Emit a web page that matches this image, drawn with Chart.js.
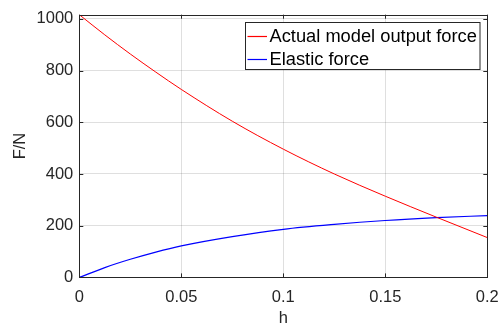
<!DOCTYPE html>
<html>
<head>
<meta charset="utf-8">
<script src="https://cdn.jsdelivr.net/npm/chart.js@4/dist/chart.umd.min.js"></script>
<style>
  html, body { margin: 0; padding: 0; background: #fff; }
  #wrap { width: 501px; height: 324px; }
</style>
</head>
<body>
<div id="wrap"><canvas id="c" width="501" height="324"></canvas></div>
<script>
// ---- data ----
const hValues = [0, 0.0125, 0.025, 0.0375, 0.05, 0.075, 0.1, 0.125, 0.15, 0.175, 0.2];
const actualForce = [1016, 938, 864, 794, 727, 604, 496, 400, 314, 233, 154];
const elasticForce = [0, 38, 70, 98, 122, 158, 186, 205, 220, 231, 239];
const seriesLabels = ['Actual model output force', 'Elastic force'];
const xTickValues = [0, 0.05, 0.1, 0.15, 0.2];
const yTickValues = [0, 200, 400, 600, 800, 1000];
const xTitle = 'h';
const yTitle = 'F/N';

const FONT = 'Liberation Sans, Arial, Helvetica, sans-serif';
const TXT = '#262626';

const framePlugin = {
  id: 'frame',
  afterDatasetsDraw(chart) {
    const {ctx, chartArea: a, scales} = chart;
    ctx.save();
    ctx.strokeStyle = TXT;
    ctx.lineWidth = 1;
    ctx.strokeRect(Math.round(a.left) + 0.5, Math.round(a.top) + 0.5,
                   Math.round(a.right) - Math.round(a.left), Math.round(a.bottom) - Math.round(a.top));
    const tl = 4;
    ctx.beginPath();
    scales.x.ticks.forEach(t => {
      const px = Math.round(scales.x.getPixelForValue(t.value)) + 0.5;
      ctx.moveTo(px, a.bottom); ctx.lineTo(px, a.bottom - tl);
      ctx.moveTo(px, a.top); ctx.lineTo(px, a.top + tl);
    });
    scales.y.ticks.forEach(t => {
      const py = Math.round(scales.y.getPixelForValue(t.value)) + 0.5;
      ctx.moveTo(a.left, py); ctx.lineTo(a.left + tl, py);
      ctx.moveTo(a.right, py); ctx.lineTo(a.right - tl, py);
    });
    ctx.stroke();

    // legend box
    const bx = 245.5, by = 22.5, bw = 234.5, bh = 47;
    ctx.fillStyle = '#fff';
    ctx.fillRect(bx, by, bw, bh);
    ctx.strokeStyle = TXT;
    ctx.strokeRect(bx, by, bw, bh);
    ctx.font = '18.3px ' + FONT;
    ctx.textBaseline = 'middle';
    ctx.textAlign = 'left';
    const rows = [35.7, 58.7];
    chart.data.datasets.forEach((ds, i) => {
      const y = rows[i];
      ctx.strokeStyle = ds.borderColor;
      ctx.lineWidth = 1.2;
      ctx.beginPath();
      ctx.moveTo(247.5, Math.round(y) + 0.5);
      ctx.lineTo(267, Math.round(y) + 0.5);
      ctx.stroke();
      ctx.fillStyle = '#000';
      ctx.fillText(ds.label, 269.5, y + 1);
    });
    ctx.restore();
  }
};

new Chart(document.getElementById('c'), {
  type: 'line',
  data: {
    datasets: [
      { label: seriesLabels[0], data: hValues.map((h, i) => ({x: h, y: actualForce[i]})),
        borderColor: '#ff0000', borderWidth: 1, pointRadius: 0, cubicInterpolationMode: 'monotone', fill: false },
      { label: seriesLabels[1], data: hValues.map((h, i) => ({x: h, y: elasticForce[i]})),
        borderColor: '#0000ff', borderWidth: 1.2, pointRadius: 0, cubicInterpolationMode: 'monotone', fill: false }
    ]
  },
  options: {
    responsive: false,
    animation: false,
    layout: { padding: { top: 14.7, right: 13.7, left: 0, bottom: 0 } },
    plugins: { legend: { display: false }, tooltip: { enabled: false } },
    scales: {
      x: {
        type: 'linear', min: 0, max: 0.2,
        afterBuildTicks: s => { s.ticks = xTickValues.map(v => ({value: v})); },
        afterFit: s => { s.height = 46.6; s.paddingLeft = 0; s.paddingRight = 0; },
        grid: { color: 'rgba(38,38,38,0.15)', drawTicks: false },
        border: { display: false },
        ticks: { color: TXT, font: { family: FONT, size: 16.5 }, padding: 10, maxRotation: 0,
                 callback: v => String(Math.round(v * 1000) / 1000) },
        title: { display: true, text: xTitle, color: TXT, font: { family: FONT, size: 16.5 }, padding: { top: 0, bottom: -4 } }
      },
      y: {
        type: 'linear', min: 0, max: 1016,
        afterBuildTicks: s => { s.ticks = yTickValues.map(v => ({value: v})); },
        afterFit: s => { s.width = 79.3; s.paddingTop = 0; s.paddingBottom = 0; },
        grid: { color: 'rgba(38,38,38,0.15)', drawTicks: false },
        border: { display: false },
        ticks: { color: TXT, font: { family: FONT, size: 16.5 }, padding: 6, callback: v => String(v) },
        title: { display: true, text: yTitle, color: TXT, font: { family: FONT, size: 16.5 }, padding: { top: 11, bottom: 0 } }
      }
    }
  },
  plugins: [framePlugin]
});
</script>
</body>
</html>
